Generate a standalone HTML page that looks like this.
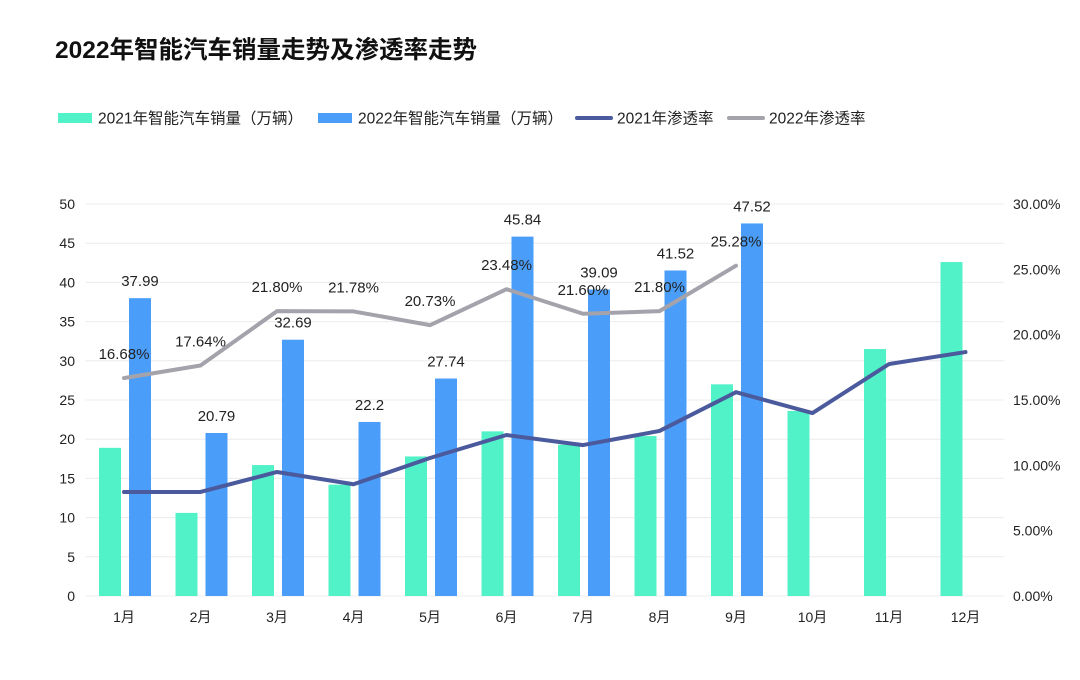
<!DOCTYPE html>
<html><head><meta charset="utf-8"><style>
body{margin:0;background:#fff;}
#wrap{position:relative;width:1080px;height:680px;background:#fff;font-family:"Liberation Sans","Noto Sans CJK SC",sans-serif;}
</style></head><body>
<div id="wrap">
<svg id="chart" width="1080" height="680" style="position:absolute;left:0;top:0;font-family:'Liberation Sans','Noto Sans CJK SC',sans-serif"></svg>
</div>
<script>
const categories=["1月","2月","3月","4月","5月","6月","7月","8月","9月","10月","11月","12月"];
const sales2021=[18.9,10.6,16.7,14.2,17.8,21.0,19.3,20.4,27.0,23.6,31.5,42.6];
const sales2022=[37.99,20.79,32.69,22.2,27.74,45.84,39.09,41.52,47.52];
const sales2022Labels=["37.99","20.79","32.69","22.2","27.74","45.84","39.09","41.52","47.52"];
const rate2021=[7.96,7.96,9.49,8.55,10.56,12.32,11.55,12.63,15.6,14.0,17.75,18.67];
const rate2022=[16.68,17.64,21.80,21.78,20.73,23.48,21.60,21.80,25.28];
const leftTicks=[0,5,10,15,20,25,30,35,40,45,50];
const rightTicks=[0,5,10,15,20,25,30];

const NS="http://www.w3.org/2000/svg";
const svg=document.getElementById('chart');
const L=85.75,R=1003.75,T=204,B=596;
const band=(R-L)/categories.length;
const xC=i=>L+band*(i+0.5);
const yL=v=>B-(v/50)*(B-T);
const yR=v=>B-(v/30)*(B-T);
function mk(tag,attrs,txt){const e=document.createElementNS(NS,tag);for(const k in attrs)e.setAttribute(k,attrs[k]);if(txt!==undefined)e.textContent=txt;svg.appendChild(e);return e;}

let t=mk('text',{x:55,y:58,'font-size':24.5,'font-weight':'bold',fill:'#111'},'2022年智能汽车销量走势及渗透率走势');



// legend
const leg=[["rect","#52F2C8",58,"2021年智能汽车销量（万辆）"],["rect","#4A9EFA",318,"2022年智能汽车销量（万辆）"],["line","#4A5A9C",577,"2021年渗透率"],["line","#A4A3AC",729,"2022年渗透率"]];
leg.forEach((l,i)=>{
  let m;
  if(l[0]=="rect") m=mk('rect',{x:l[2],y:113,width:34,height:10,fill:l[1]});
  else m=mk('line',{x1:l[2],x2:l[2]+34,y1:118,y2:118,stroke:l[1],'stroke-width':4,'stroke-linecap':'round'});
  
  
  const tx=mk('text',{x:l[2]+40,y:123.5,'font-size':15.5,fill:'#222'},l[3]);
  
  
});

// grid + left ticks
leftTicks.forEach(v=>{
  const g=mk('line',{x1:L,x2:R,y1:yL(v),y2:yL(v),stroke:'#ececec','stroke-width':1});
  
  
  const tx=mk('text',{x:75,y:yL(v)+5,'font-size':14,fill:'#222','text-anchor':'end'},String(v));
  
  
});
rightTicks.forEach(v=>{
  const tx=mk('text',{x:1013,y:yR(v)+5,'font-size':14,fill:'#222'},v.toFixed(2)+'%');
  
  
});
categories.forEach((c,i)=>{
  const tx=mk('text',{x:xC(i),y:622,'font-size':14,fill:'#222','text-anchor':'middle'},c);
  
  
});

// bars
sales2021.forEach((v,i)=>{
  const r=mk('rect',{x:xC(i)-25,y:yL(v),width:22,height:B-yL(v),fill:'#52F2C8'});
  
  
});
sales2022.forEach((v,i)=>{
  const r=mk('rect',{x:xC(i)+5,y:yL(v),width:22,height:B-yL(v),fill:'#4A9EFA'});
  
  
});

// lines
function line(data,color,name){
  const p=mk('polyline',{points:data.map((v,i)=>xC(i)+','+yR(v)).join(' '),fill:'none',stroke:color,'stroke-width':4,'stroke-linejoin':'round','stroke-linecap':'round'});
  
  
}
line(rate2021,'#4A5A9C','line-rate-2021');
line(rate2022,'#A4A3AC','line-rate-2022');

// labels
sales2022.forEach((v,i)=>{
  const tx=mk('text',{x:xC(i)+16,y:yL(v)-12,'font-size':15,fill:'#222','text-anchor':'middle'},sales2022Labels[i]);
  
  
});
rate2022.forEach((v,i)=>{
  const tx=mk('text',{x:xC(i),y:yR(v)-19,'font-size':15,fill:'#222','text-anchor':'middle'},v.toFixed(2)+'%');
  
  
});
</script>
</body></html>
